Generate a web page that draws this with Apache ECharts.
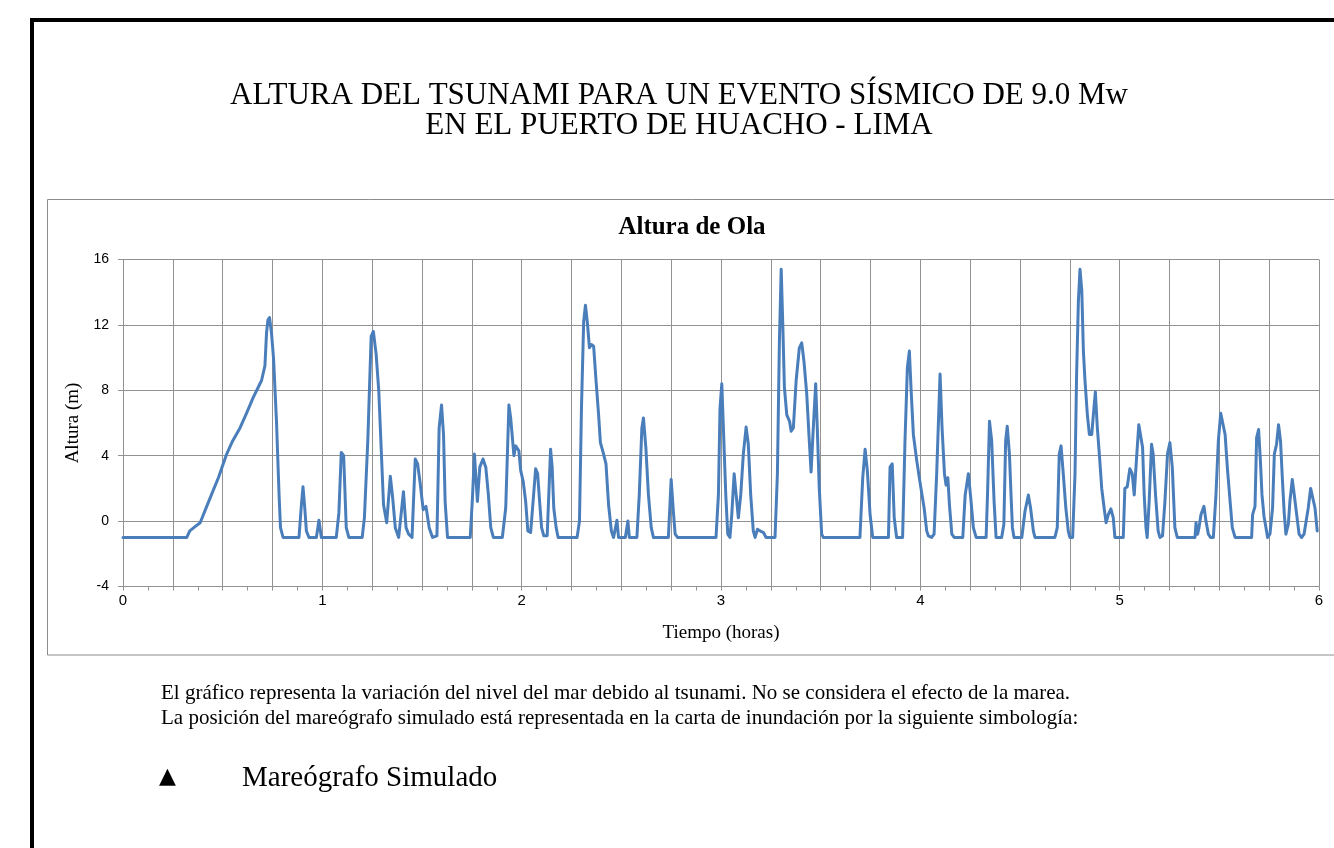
<!DOCTYPE html>
<html>
<head>
<meta charset="utf-8">
<script src="https://cdn.jsdelivr.net/npm/echarts@6/dist/echarts.min.js"></script>
<style>
html,body{margin:0;padding:0;background:#fff;}
#chart{width:1334px;height:848px;}
</style>
</head>
<body>
<div id="chart"></div>
<script>
// ---- Data ----
const tiempo = [
0,0.32,0.335,0.36,0.387,0.42,0.45,0.48,0.52,0.55,0.587,0.62,0.653,0.695,0.712,0.72,0.727,0.735,0.745,0.755,0.77,0.783,0.79,0.803,
0.883,0.895,0.903,0.912,0.92,0.933,0.97,0.983,0.995,1.07,1.083,1.095,1.107,1.12,1.133,
1.2,1.211,1.228,1.245,1.256,1.27,1.283,1.295,1.307,1.323,1.341,1.353,1.366,1.383,1.39,1.407,1.42,1.433,1.45,1.466,1.478,1.49,1.506,1.52,1.536,1.553,1.575,1.586,1.598,1.608,1.616,1.628,
1.742,1.753,1.763,1.778,1.79,1.806,1.82,1.833,1.845,1.858,1.903,1.92,1.936,1.945,1.961,1.97,1.986,1.995,
2.008,2.02,2.031,2.045,2.056,2.07,2.08,2.09,2.1,2.111,2.128,2.145,2.153,2.161,2.173,2.183,2.278,2.29,2.3,2.311,2.32,2.33,2.34,2.35,2.361,2.373,2.386,2.395,2.411,2.423,2.436,2.45,2.461,2.478,2.486,2.52,2.533,2.54,2.578,2.59,2.603,2.611,2.623,2.636,2.65,2.661,2.736,2.75,2.761,2.77,2.783,
2.975,2.987,2.995,3.004,3.012,3.024,3.034,3.045,3.054,3.066,3.076,3.087,3.099,3.112,3.126,3.137,3.149,3.162,3.171,3.183,3.196,3.213,3.226,3.271,3.283,3.293,3.302,3.31,3.318,3.33,3.344,3.352,3.363,3.377,3.393,3.405,3.416,3.43,3.443,3.452,3.463,3.475,3.483,3.493,3.505,3.513,
3.697,3.711,3.723,3.734,3.748,3.761,3.84,3.848,3.859,3.869,3.881,3.911,3.923,3.935,3.945,3.953,3.965,3.982,3.998,
4.019,4.032,4.04,4.049,4.057,4.069,4.082,4.099,4.109,4.121,4.129,4.138,4.146,4.158,4.17,4.213,4.225,4.241,4.253,4.266,4.28,4.33,4.337,4.347,4.358,4.37,4.38,4.408,4.419,4.428,4.436,4.447,4.455,4.462,4.47,4.509,4.525,4.542,4.553,4.567,4.575,
4.675,4.687,4.697,4.706,4.717,4.73,4.742,4.75,4.764,4.776,4.784,4.793,4.801,4.81,4.818,4.826,4.838,4.848,4.86,4.868,4.878,4.888,4.898,4.91,4.922,4.932,4.943,4.956,4.968,4.976,
5.018,5.026,5.038,5.051,5.063,5.073,5.085,5.096,5.106,5.115,5.123,5.132,5.138,5.148,5.16,5.168,5.18,5.193,5.202,5.215,5.227,5.24,5.252,5.264,5.277,5.289,5.378,5.383,5.391,5.398,5.408,5.423,5.433,5.445,5.456,5.47,5.483,5.495,5.507,5.517,5.529,5.54,5.554,5.565,5.579,
5.662,5.667,5.679,5.687,5.697,5.706,5.714,5.724,5.734,5.742,5.754,5.767,5.776,5.787,5.797,5.807,5.817,5.826,5.834,5.846,5.854,5.866,5.876,5.888,5.9,5.913,5.925,5.935,5.946,5.958,5.968,5.98,5.991
];
const altura = [
-1,-1,-0.6,-0.35,-0.1,0.9,1.8,2.7,4.1,4.9,5.7,6.6,7.55,8.6,9.5,11.5,12.3,12.45,11.5,10.0,6.1,1.6,-0.4,-1,
-1,1.0,2.1,0.8,-0.6,-1,-1,0.05,-1,-1,0.5,4.2,4.0,-0.4,-1,
-1,0.2,4.9,11.3,11.6,10.2,8.0,4.5,1.0,-0.1,2.75,1.4,-0.4,-1,-0.9,1.8,-0.4,-0.8,-1,3.8,3.5,2.4,0.7,0.9,-0.4,-1,-0.9,5.7,7.1,5.3,1.2,-1,
-1,1.4,4.1,1.2,3.3,3.8,3.3,1.6,-0.4,-1,-1,0.8,7.1,6.3,4.0,4.6,4.3,3.1,
2.4,1.2,-0.6,-0.7,1.0,3.2,2.9,1.2,-0.4,-0.9,-0.9,4.4,3.3,0.8,-0.4,-1,-1,0,6.9,12.2,13.2,12.1,10.6,10.8,10.7,8.6,6.5,4.8,4.1,3.5,1.0,-0.6,-1,0.05,-1,-1,0,-1,-1,1.6,5.7,6.3,4.5,1.6,-0.4,-1,-1,2.55,0.6,-0.8,-1,
-1,1.6,6.9,8.4,5.7,1.6,-0.8,-1,0.4,2.9,1.6,0.2,1.6,4.1,5.75,4.7,1.6,-0.6,-1,-0.5,-0.6,-0.7,-1,-1,2.9,11.0,15.4,12.0,8.2,6.5,6.1,5.5,5.7,8.6,10.6,10.9,9.8,7.8,4.9,3.0,5.7,8.4,5.7,2.0,-0.8,-1,
-1,2.65,4.4,3.1,0.4,-1,-1,3.3,3.5,0.2,-1,-1,4.9,9.4,10.4,8.2,5.3,3.7,2.4,
0.8,-0.6,-0.9,-0.8,-1,-0.8,2.9,9.0,5.7,2.9,2.2,2.65,1.0,-0.8,-1,-1,1.6,2.9,1.4,-0.4,-1,-1,1.6,6.1,4.9,1.2,-1,-1,-0.2,4.9,5.8,4.1,1.6,-0.4,-1,-1,0.6,1.6,0.8,-0.6,-1,
-1,-0.4,4.1,4.6,2.9,0.8,-0.6,-1,-1,2.9,9.0,13.5,15.4,14.1,10.4,8.6,6.5,5.3,5.3,6.5,7.9,5.7,4.1,2.0,0.8,-0.1,0.4,0.75,0.2,-1,
-1,2.0,2.1,3.2,2.9,1.6,3.9,5.9,6.0,4.5,1.6,-0.4,-1,1.2,4.7,4.1,1.6,-0.6,-1,-0.9,1.2,4.1,4.8,3.3,-0.4,-1,-1,-0.1,-0.8,-0.4,0.4,0.9,0,-0.8,-1,-1,1.6,4.9,6.6,6.5,5.3,3.3,1.2,-0.4,-1,
-1,0.4,0.9,5.1,5.6,3.7,1.6,0.3,-0.4,-1,-0.8,0.8,4.1,4.7,5.9,4.9,2.4,0.4,-0.8,-0.2,1.2,2.55,1.6,0.4,-0.8,-1,-0.8,-0.8,0.8,2.0,1.95,0.8,-0.6
];
const xTickLabels = ['0','1','2','3','4','5','6'];
const yTicks = [-4, 0, 4, 8, 12, 16];

const tituloLineas = ['ALTURA DEL TSUNAMI PARA UN EVENTO SÍSMICO DE 9.0 Mw', 'EN EL PUERTO DE HUACHO - LIMA'];
const tituloGrafico = 'Altura de Ola';
const notas = [
  'El gráfico representa la variación del nivel del mar debido al tsunami. No se considera el efecto de la marea.',
  'La posición del mareógrafo simulado está representada en la carta de inundación por la siguiente simbología:'
];
const leyenda = 'Mareógrafo Simulado';

// ---- Chart ----
const serif = '"Liberation Serif", "Times New Roman", serif';
const sans = '"Liberation Sans", Arial, sans-serif';
const data = tiempo.map((t, i) => [t, altura[i]]);
const gridColor = '#929292';

const chart = echarts.init(document.getElementById('chart'), null, {renderer: 'canvas'});
chart.setOption({
  animation: false,
  backgroundColor: '#ffffff',
  grid: {left: 123, top: 259.5, width: 1196, height: 327, containLabel: false},
  xAxis: {
    type: 'value', min: 0, max: 6, interval: 0.25,
    name: 'Tiempo (horas)', nameLocation: 'middle', nameGap: 37,
    nameTextStyle: {fontFamily: serif, fontSize: 19, color: '#000'},
    axisLine: {show: true, onZero: false, lineStyle: {color: gridColor, width: 1}},
    axisTick: {show: true, length: 4, lineStyle: {color: gridColor}},
    minorTick: {show: true, splitNumber: 2, length: 4, lineStyle: {color: gridColor}},
    axisLabel: {
      margin: 7, fontFamily: sans, fontSize: 15, color: '#000',
      showMinLabel: true, showMaxLabel: true,
      formatter: v => (Math.abs(v - Math.round(v)) < 1e-9 ? xTickLabels[Math.round(v)] : '')
    },
    splitLine: {show: true, lineStyle: {color: gridColor, width: 1}}
  },
  yAxis: {
    type: 'value', min: yTicks[0], max: yTicks[yTicks.length - 1], interval: 4,
    name: 'Altura (m)', nameLocation: 'middle', nameGap: 39,
    nameTextStyle: {fontFamily: serif, fontSize: 19, color: '#000'},
    axisLine: {show: true, onZero: false, lineStyle: {color: gridColor, width: 1}},
    axisTick: {show: true, length: 5, lineStyle: {color: gridColor}},
    axisLabel: {margin: 14, fontFamily: sans, fontSize: 14, color: '#000'},
    splitLine: {show: true, lineStyle: {color: gridColor, width: 1}}
  },
  series: [{
    type: 'line', data: data, showSymbol: false, smooth: false,
    lineStyle: {color: '#4A7EBB', width: 3, join: 'round', cap: 'round'},
    z: 5
  }],
  graphic: [
    {type: 'rect', shape: {x: 30, y: 18, width: 4, height: 900}, style: {fill: '#000'}, silent: true},
    {type: 'rect', shape: {x: 30, y: 18, width: 1400, height: 4}, style: {fill: '#000'}, silent: true},
    {type: 'rect', shape: {x: 47.5, y: 199.5, width: 1400, height: 455.5}, style: {fill: 'none', stroke: '#8c8c8c', lineWidth: 1}, silent: true, z: -1},
    {type: 'text', x: 679, y: 96, style: {text: tituloLineas[0], font: '31px ' + serif, fill: '#000', align: 'center', verticalAlign: 'middle'}},
    {type: 'text', x: 679, y: 126, style: {text: tituloLineas[1], font: '31px ' + serif, fill: '#000', align: 'center', verticalAlign: 'middle'}},
    {type: 'text', x: 692, y: 228, style: {text: tituloGrafico, font: 'bold 25px ' + serif, fill: '#000', align: 'center', verticalAlign: 'middle'}},
    {type: 'text', x: 161, y: 693, style: {text: notas[0], font: '21px ' + serif, fill: '#000', align: 'left', verticalAlign: 'middle'}},
    {type: 'text', x: 161, y: 718, style: {text: notas[1], font: '21px ' + serif, fill: '#000', align: 'left', verticalAlign: 'middle'}},
    {type: 'text', x: 159, y: 777, style: {text: '▲', font: '22px "DejaVu Sans", sans-serif', fill: '#000', align: 'left', verticalAlign: 'middle'}},
    {type: 'text', x: 242, y: 778, style: {text: leyenda, font: '29px ' + serif, fill: '#000', align: 'left', verticalAlign: 'middle'}}
  ]
});
</script>
</body>
</html>
